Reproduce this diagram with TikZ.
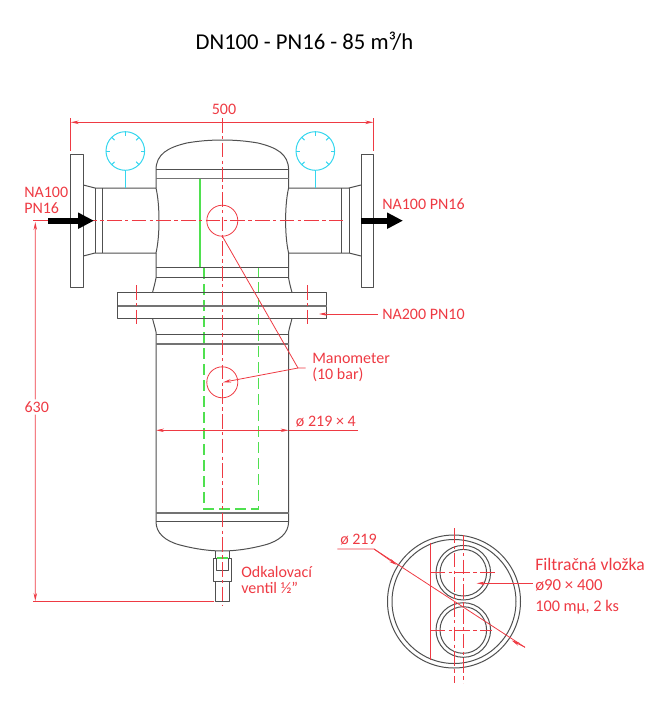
\documentclass[tikz,border=0pt]{standalone}
\usepackage{fontspec}
\setmainfont{Carlito}
\usetikzlibrary{arrows.meta}
\definecolor{steel}{HTML}{505050}
\definecolor{dimred}{HTML}{EE3A43}
\definecolor{gaugecyan}{HTML}{35D6EE}
\definecolor{filtergreen}{HTML}{4FE04F}
\tikzset{
  body/.style={draw=steel, line width=0.75pt, line join=round},
  heavy/.style={draw=steel!80, line width=1.4pt},
  dim/.style={draw=dimred, line width=0.6pt},
  tipped/.style={dim, -{Stealth[length=6pt,width=2.6pt]}},
  axis/.style={draw=dimred, line width=0.6pt, dash pattern=on 11pt off 2.5pt on 2.5pt off 2.5pt},
  gauge/.style={draw=gaugecyan, line width=0.75pt},
  filt/.style={draw=filtergreen, line width=0.8pt},
  filtd/.style={filt, dash pattern=on 8pt off 4pt},
  flow/.style={line width=4.2pt, -{Triangle[length=12pt,width=11.5pt]}},
  lab/.style={text=dimred, font=\fontsize{12}{13}\selectfont, inner sep=0pt, align=left},
  labb/.style={text=dimred, font=\fontsize{13.2}{15.4}\selectfont, inner sep=0pt, align=left},
}
\begin{document}
\begin{tikzpicture}[x=0.75pt,y=-0.75pt]
  \useasboundingbox (0,0) rectangle (660,722);
  \pgfmathsetmacro{\cx}{222.3}
  \pgfmathsetmacro{\cy}{220.7}

  % filter cartridge, behind the vessel
  \draw[filt] (200,178) -- (200,268);
  \draw[filtd] (204,268) -- (204,509) -- (258.5,509) -- (258.5,268);

  % head and upper bands
  \draw[body] (156,188) -- (156,170) .. controls (156,154) and (168,147.5) .. (186.7,143)
    .. controls (198,141) and (210,140) .. (222.3,140)
    .. controls (234.6,140) and (246.6,141) .. (257.9,143)
    .. controls (276.6,147.5) and (288.6,154) .. (288.6,170) -- (288.6,188);
  \draw[body] (156,169.5) -- (288.6,169.5);
  \draw[heavy] (156,178.5) -- (288.6,178.5);
  \draw[body] (156,253) -- (156,278) .. controls (155,283) and (154,287) .. (152.5,292.5);
  \draw[body] (288.6,253) -- (288.6,278) .. controls (289.5,283) and (290.5,287) .. (292,292.5);
  \draw[body] (156,267.7) -- (288.6,267.7);
  \draw[body] (156,277.7) -- (288.6,277.7);

  % inlet and outlet
  \draw[body] (70.7,154) rectangle (83.3,287);
  \draw[body] (361,154) rectangle (373.3,287);
  \draw[body] (83.3,185) -- (95,188) -- (156,188) .. controls (160,205) and (160,236) .. (156,253) -- (95,253) -- (83.3,256);
  \draw[body] (361,185) -- (349,188) -- (288.6,188) .. controls (284.6,205) and (284.6,236) .. (288.6,253) -- (349,253) -- (361,256);
  \draw[body] (95,188) -- (95,253);
  \draw[body] (102.3,188) -- (102.3,253);
  \draw[body] (341.7,188) -- (341.7,253);
  \draw[body] (349,188) -- (349,253);

  % gauges
  \foreach \gx in {125.3,315.3} {
    \draw[gauge] (\gx,151) circle (19.3);
    \draw[gauge] (\gx,170.3) -- (\gx,188);
    \foreach \a in {-90,-45,0,45,135,180,225}
      \draw[gauge] (\gx,151) ++(\a:19.3) -- ++(\a:-4);
  }

  % body flange
  \draw[body] (117.7,292.7) rectangle (326.7,318.3);
  \draw[heavy] (117.7,305.7) -- (326.7,305.7);

  % shell and bottom head
  \draw[body] (152.5,318.3) .. controls (153.5,323) and (155,327) .. (156,332) -- (156,521.7)
    .. controls (156,533) and (165,541) .. (180,545)
    .. controls (195,549) and (210,551) .. (222.3,551)
    .. controls (234.6,551) and (249.6,549) .. (264.6,545)
    .. controls (279.6,541) and (288.6,533) .. (288.6,521.7) -- (288.6,332)
    .. controls (289.5,327) and (291,323) .. (292,318.3);
  \draw[body] (156,334) -- (288.6,334);
  \draw[heavy] (156,344) -- (288.6,344);
  \draw[heavy] (156,512.7) -- (288.6,512.7);
  \draw[body] (156,521.7) -- (288.6,521.7);

  % drain
  \draw[body] (215.7,550.5) -- (215.7,601.7) -- (229,601.7) -- (229,550.5);
  \draw[body,fill=white] (213.3,558) rectangle (231,581.7);
  \draw[body] (216.7,558) -- (216.7,570.7) -- (228,570.7) -- (228,558);
  \draw[filt] (216.7,558) -- (228,558);

  % centre lines
  \draw[axis] (\cx,118) -- (\cx,606);
  \draw[axis] (33,\cy) -- (343,\cy);
  \draw[axis] (136.7,285) -- (136.7,325);
  \draw[axis] (307.3,285) -- (307.3,325);

  \draw[dim] (\cx,\cy) circle (15.5);
  \draw[dim] (\cx,382.3) circle (15.5);

  % flow arrows
  \draw[flow] (48,220.7) -- (94,220.7);
  \draw[flow] (361,220.7) -- (403,220.7);

  % dimensions
  \draw[dim] (70.7,118) -- (70.7,151);
  \draw[dim] (373.3,118) -- (373.3,151);
  \draw[tipped] (\cx,122.3) -- (70.7,122.3);
  \draw[tipped] (\cx,122.3) -- (373.3,122.3);
  \node[lab] (w500) at (224,109.5) {500};

  \node[lab,anchor=west] (naleft) at (24,200.5) {NA100\\[-0.6pt]PN16};
  \node[lab,anchor=west] (naright) at (382,204) {NA100 PN16};
  \node[lab] (h630) at (36.7,407) {630};
  \coordinate (hup) at (35.3,222);
  \coordinate (hdown) at (35.3,601);
  \draw[tipped] (h630.north) ++(-1.4,-2) -- (hup);
  \draw[tipped] (h630.south) ++(-1.4,2) -- (hdown);
  \draw[dim] (33,601) -- (214,601);

  \node[lab,anchor=west] (naflange) at (382,314) {NA200 PN10};
  \draw[tipped] (naflange.west) ++(-4,0) -- (319,314);

  \node[lab,anchor=west] (mano) at (312,367.5) {Manometer\\[-0.6pt](10 bar)};
  \coordinate (knee) at (298,368);
  \draw[dim] (\cx,236.2) -- (knee) -- (305.7,368);
  \draw[tipped] (knee) -- (223,382.3);

  \node[lab,anchor=west] (shell) at (295.7,422) {ø 219 × 4};
  \coordinate (shellend) at (358,430.3);
  \draw[dim] (shellend) -- (288.6,430.3);
  \draw[tipped] (\cx,430.3) -- (156,430.3);
  \draw[tipped] (\cx,430.3) -- (288.6,430.3);

  \node[lab,anchor=west] (drain) at (241,580) {Odkalovací\\[-0.6pt]ventil ½"};

  % section
  \coordinate (sec) at (454,601.5);
  \coordinate (up) at (463.3,572.7);
  \coordinate (lo) at (463.3,630);
  \draw[body] (sec) circle (66.5);
  \draw[body] (sec) circle (62);
  \foreach \c in {up,lo} {
    \draw[body] (\c) circle (27.3);
    \draw[body] (\c) circle (23.3);
  }
  \draw[axis] (454,528) -- (454,683);
  \draw[axis] (463.3,535) -- (463.3,683);
  \draw[axis] (430.7,572.7) -- (498,572.7);
  \draw[axis] (430.7,630) -- (492,630);
  \draw[dim] (430.7,542.7) -- (430.7,660);

  \node[lab,anchor=west] (secdia) at (340,540) {ø 219};
  \coordinate (secstart) at (337.3,549);
  \coordinate (secknee) at (374,549);
  \coordinate (secend) at (525,647.3);
  \draw[dim] (secstart) -- (secknee) -- (secend);
  \draw[tipped] (secknee) -- (396.7,565);
  \draw[tipped] (secend) -- (511.7,640.5);

  \node[labb,anchor=west] (cart) at (535,586) {Filtračná vložka\\{\fontsize{12.6}{15.4}\selectfont ø90 × 400}\\{\fontsize{12.2}{15.4}\selectfont 100 mμ, 2 ks}};
  \coordinate (cartend) at (532.7,583.3);
  \draw[tipped] (cartend) -- (476.7,583.3);

  \node[font=\fontsize{17}{20}\selectfont,inner sep=0pt] (title) at (304.5,41) {DN100 - PN16 - 85 m³/h};
\end{tikzpicture}
\end{document}
